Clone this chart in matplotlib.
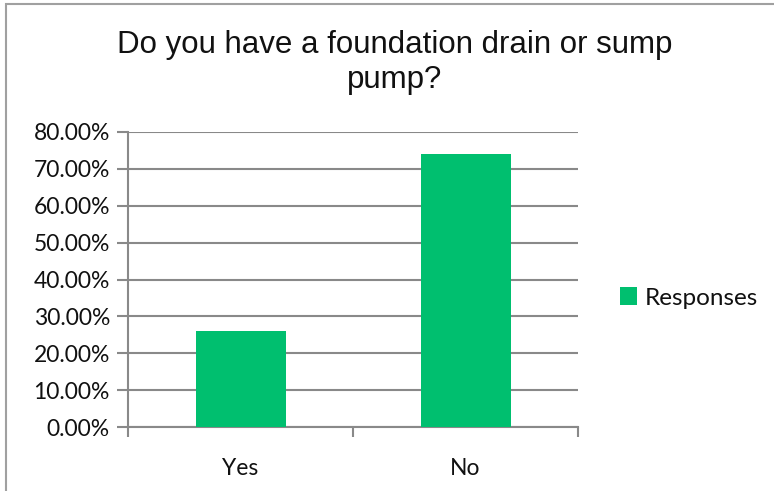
import matplotlib
matplotlib.use("Agg")
import matplotlib.pyplot as plt
from matplotlib.ticker import FuncFormatter
from matplotlib.patches import Rectangle

categories = ["Yes", "No"]
responses = [26.09, 73.91]
series_name = "Responses"
title = "Do you have a foundation drain or sump\npump?"

green = "#00BF6F"
grid_col = "#898989"

fig = plt.figure(figsize=(7.74, 4.91), dpi=100)
fig.patches.append(Rectangle((6 / 774, -0.1), 1.2, 1.1 - 4 / 491, transform=fig.transFigure,
                             fill=False, edgecolor="#a0a0a0", linewidth=1.5))

ax = fig.add_axes([128 / 774, 1 - 427 / 491, 450 / 774, 295 / 491])
x = list(range(len(categories)))
ax.bar(x, responses, width=0.4, color=green, label=series_name, zorder=3)

ax.set_xlim(-0.5, len(categories) - 0.5)
ax.set_ylim(0, 80)
ax.set_yticks(range(0, 81, 10))
ax.yaxis.set_major_formatter(FuncFormatter(lambda v, p: f"{v:.2f}%"))
ax.set_xticks(x)
ax.set_xticklabels(categories)
ax.set_xticks([-0.5, 0.5, 1.5], minor=True)
ax.tick_params(axis="x", which="major", length=0, pad=22)
ax.tick_params(axis="x", which="minor", length=7, width=1.5, color=grid_col, direction="out")
ax.tick_params(axis="y", length=8, width=1.5, color=grid_col, direction="out", pad=5)

ax.grid(axis="y", color=grid_col, linewidth=1.5, zorder=0)
for s in ["top", "right"]:
    ax.spines[s].set_visible(False)
for s in ["left", "bottom"]:
    ax.spines[s].set_color(grid_col)
    ax.spines[s].set_linewidth(1.5)

for lab in ax.get_yticklabels() + ax.get_xticklabels():
    lab.set_fontfamily("Lato")
    lab.set_fontsize(16.5)
    lab.set_color("#111111")

fig.text(395 / 774, 1 - 30 / 491, title, ha="center", va="top",
         fontfamily="Liberation Sans", fontsize=22.5, color="#111111", linespacing=1.2,
         transform=fig.transFigure)

leg = fig.legend(loc="center left", bbox_to_anchor=(620 / 774, 1 - 298 / 491), frameon=False,
                 prop={"family": "Lato", "size": 17.5}, handlelength=0.7, handleheight=0.7,
                 handletextpad=0.3, borderpad=0, borderaxespad=0)
for t in leg.get_texts():
    t.set_color("#111111")

fig.savefig("out.png", dpi=100)
